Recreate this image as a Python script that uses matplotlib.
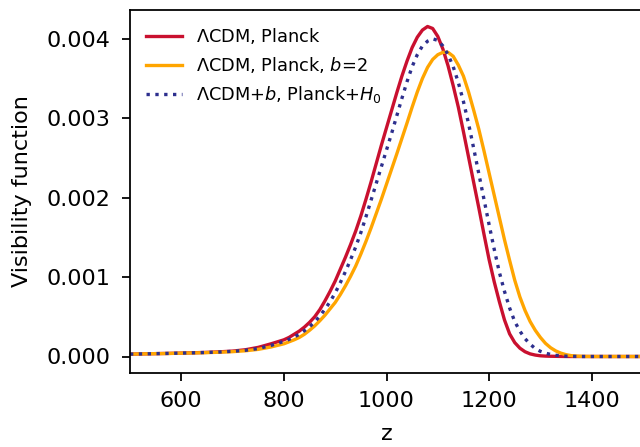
import numpy as np
import matplotlib
matplotlib.use("Agg")
import matplotlib.pyplot as plt
from matplotlib.ticker import FormatStrFormatter

# redshift sampling positions
z_low = [500, 525, 550, 575, 600, 625, 650, 675, 700, 725, 750, 775]
z_mid = list(range(800, 1401, 10))
z_high = [1450, 1500]
z = np.array(z_low + z_mid + z_high, dtype=float)

# visibility function values, in units of 1e-3
red_low = [0.030, 0.033, 0.036, 0.039, 0.043, 0.047, 0.052, 0.059, 0.068, 0.085, 0.115, 0.160]
red_mid = [0.21, 0.24, 0.28, 0.32, 0.37, 0.43, 0.50, 0.59, 0.70, 0.82,
           0.95, 1.10, 1.25, 1.41, 1.58, 1.77, 1.98, 2.20, 2.43, 2.66,
           2.88, 3.10, 3.32, 3.53, 3.72, 3.89, 4.02, 4.11, 4.155, 4.13,
           4.03, 3.87, 3.66, 3.41, 3.14, 2.83, 2.51, 2.19, 1.87, 1.54,
           1.22, 0.94, 0.69, 0.46, 0.285, 0.175, 0.105, 0.06, 0.033, 0.018,
           0.009, 0.005, 0.003, 0.002, 0.001, 0.0, 0.0, 0.0, 0.0, 0.0, 0.0]
red_high = [0.0, 0.0]

orange_low = [0.030, 0.033, 0.036, 0.038, 0.042, 0.045, 0.049, 0.054, 0.061, 0.072, 0.090, 0.120]
orange_mid = [0.16, 0.185, 0.21, 0.24, 0.28, 0.33, 0.385, 0.45, 0.52, 0.60,
              0.68, 0.78, 0.89, 1.01, 1.14, 1.29, 1.45, 1.62, 1.80, 1.98,
              2.17, 2.36, 2.55, 2.745, 2.94, 3.14, 3.33, 3.50, 3.64, 3.74,
              3.80, 3.83, 3.83, 3.78, 3.67, 3.53, 3.33, 3.10, 2.86, 2.59,
              2.31, 2.03, 1.75, 1.47, 1.21, 0.96, 0.75, 0.58, 0.44, 0.33,
              0.24, 0.165, 0.11, 0.07, 0.042, 0.023, 0.011, 0.005, 0.002, 0.001, 0.0]
orange_high = [0.0, 0.0]

blue_low = [0.030, 0.033, 0.036, 0.039, 0.043, 0.047, 0.051, 0.057, 0.065, 0.078, 0.100, 0.140]
blue_mid = [0.19, 0.215, 0.245, 0.28, 0.325, 0.375, 0.435, 0.51, 0.595, 0.69,
            0.80, 0.93, 1.07, 1.22, 1.38, 1.56, 1.76, 1.97, 2.18, 2.39,
            2.60, 2.81, 3.03, 3.25, 3.46, 3.65, 3.80, 3.91, 3.97, 4.00,
            3.98, 3.91, 3.80, 3.65, 3.45, 3.21, 2.93, 2.62, 2.30, 1.98,
            1.66, 1.35, 1.06, 0.82, 0.61, 0.44, 0.32, 0.225, 0.155, 0.10,
            0.065, 0.042, 0.026, 0.015, 0.008, 0.004, 0.002, 0.001, 0.0, 0.0, 0.0]
blue_high = [0.0, 0.0]

red = np.array(red_low + red_mid + red_high) * 1e-3
orange = np.array(orange_low + orange_mid + orange_high) * 1e-3
blue = np.array(blue_low + blue_mid + blue_high) * 1e-3

labels = [r"$\Lambda$CDM, Planck",
          r"$\Lambda$CDM, Planck, $b$=2",
          r"$\Lambda$CDM+$b$, Planck+$H_0$"]
colors = ["#C9102F", "#FFA500", "#2D2F8E"]
yticks = [0.000, 0.001, 0.002, 0.003, 0.004]
xticks = [600, 800, 1000, 1200, 1400]

plt.rcParams["font.size"] = 10
plt.rcParams["mathtext.fontset"] = "dejavusans"

fig = plt.figure(figsize=(4.0, 447 / 160), dpi=160)
ax = fig.add_axes([130 / 640, 74 / 447, 513 / 640, 363 / 447])

ax.plot(z, red, color=colors[0], lw=1.5, label=labels[0])
ax.plot(z, orange, color=colors[1], lw=1.5, label=labels[1])
ax.plot(z, blue, color=colors[2], lw=1.5, ls=":", label=labels[2])

ax.set_xlim(500, 1500)
ax.set_xticks(xticks)
ax.set_yticks(yticks)
ax.yaxis.set_major_formatter(FormatStrFormatter("%.3f"))
ax.tick_params(axis="y", pad=5.5)
ax.tick_params(axis="x", pad=4.5)
ax.set_xlabel("z", labelpad=6)
ax.set_ylabel("Visibility function", labelpad=6.5)
ax.legend(loc="upper left", frameon=False, fontsize=8)

fig.savefig("out.png", dpi=160)
